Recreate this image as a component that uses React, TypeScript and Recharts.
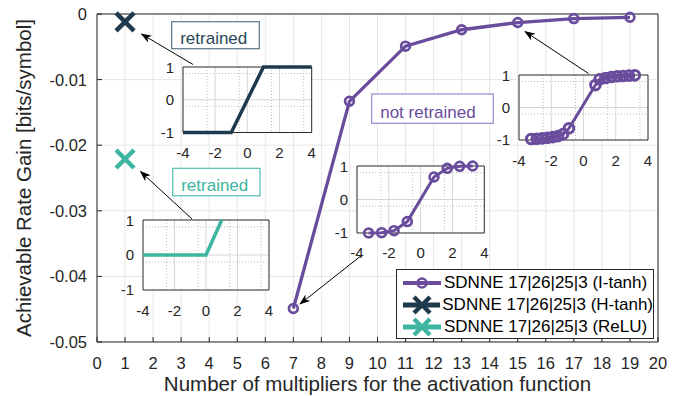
import React from "react";
import {
  LineChart,
  Line,
  XAxis,
  YAxis,
  CartesianGrid,
  Legend,
  ReferenceArea,
} from "recharts";

// main chart data
const MULTIPLIERS = [7, 9, 11, 13, 15, 17, 19];
const ITANH_GAIN = [-0.0449, -0.0133, -0.0049, -0.0024, -0.0013, -0.0007, -0.0005];
const HTANH_POS = [1];
const HTANH_GAIN = [-0.0012];
const RELU_POS = [1];
const RELU_GAIN = [-0.0221];
const X_TICKS = [0, 1, 2, 3, 4, 5, 6, 7, 8, 9, 10, 11, 12, 13, 14, 15, 16, 17, 18, 19, 20];
const Y_TICKS = [-0.05, -0.04, -0.03, -0.02, -0.01, 0];
const SERIES_NAMES = ["SDNNE 17|26|25|3 (I-tanh)", "SDNNE 17|26|25|3 (H-tanh)", "SDNNE 17|26|25|3 (ReLU)"];

// inset data (activation functions)
const HT_IN = [-4, -1, 1, 4];
const HT_OUT = [-1, -1, 1, 1];
const RELU_IN = [-4, 0, 1];
const RELU_OUT = [0, 0, 1];
const IT7_IN = [-3.27, -2.45, -1.67, -0.84, 0.84, 1.67, 2.45, 3.27];
const IT7_OUT = [-1, -0.99, -0.93, -0.66, 0.67, 0.93, 0.99, 1];
const IT15_IN = [-3.24, -2.9, -2.57, -2.24, -1.91, -1.58, -1.27, -0.9, 0.74, 1.0, 1.36, 1.73, 2.09, 2.45, 2.82, 3.18];
const IT15_OUT = [-0.97, -0.96, -0.95, -0.93, -0.91, -0.88, -0.82, -0.64, 0.69, 0.87, 0.91, 0.94, 0.96, 0.97, 0.98, 0.99];
const INSET_X_TICKS = [-4, -2, 0, 2, 4];
const INSET_Y_TICKS = [-1, 0, 1];
const INSET_MINOR_X = [-3.5, -3, -2.5, -1.5, -1, -0.5, 0.5, 1, 1.5, 2.5, 3, 3.5];
const INSET_MINOR_Y = [-0.8, -0.6, -0.4, -0.2, 0.2, 0.4, 0.6, 0.8];

const PURPLE = "#6a4c9c";
const NAVY = "#1e3a4c";
const TEAL = "#3db5a0";
const AXIS = "#262626";
const FONT = "'Liberation Sans', Arial, sans-serif";

const zip = (xs: number[], ys: number[]) => xs.map((x, i) => ({ x, y: ys[i] }));

const itanhData = zip(MULTIPLIERS, ITANH_GAIN);
const htanhData = zip(HTANH_POS, HTANH_GAIN);
const reluData = zip(RELU_POS, RELU_GAIN);

const SERIES_MARK: Record<string, { color: string; mark: "circle" | "cross" }> = {
  [SERIES_NAMES[0]]: { color: PURPLE, mark: "circle" },
  [SERIES_NAMES[1]]: { color: NAVY, mark: "cross" },
  [SERIES_NAMES[2]]: { color: TEAL, mark: "cross" },
};

const fmtY = (v: number) => (v === 0 ? "0" : v.toFixed(2));

const BottomTick = (p: any) => (
  <g>
    <line x1={p.x} x2={p.x} y1={p.y} y2={p.y - 5} stroke={AXIS} />
    <text x={p.x} y={p.y + 27} textAnchor="middle" fontSize={16.5} fill={AXIS}>
      {p.payload.value}
    </text>
  </g>
);
const TopTick = (p: any) => <line x1={p.x} x2={p.x} y1={p.y} y2={p.y + 5} stroke={AXIS} />;
const LeftTick = (p: any) => (
  <g>
    <line x1={p.x} x2={p.x + 5} y1={p.y} y2={p.y} stroke={AXIS} />
    <text x={p.x - 10} y={p.y} dy="0.36em" textAnchor="end" fontSize={16.5} fill={AXIS}>
      {fmtY(p.payload.value)}
    </text>
  </g>
);
const RightTick = (p: any) => <line x1={p.x} x2={p.x - 5} y1={p.y} y2={p.y} stroke={AXIS} />;

const InsetXTick = (p: any) => (
  <text x={p.x} y={p.y + 25.5} textAnchor="middle" fontSize={15} fill={AXIS}>
    {p.payload.value}
  </text>
);
const InsetYTick = (p: any) => (
  <text x={p.x - 9} y={p.y} dy="0.36em" textAnchor="end" fontSize={15} fill={AXIS}>
    {p.payload.value}
  </text>
);

function Cross({ cx, cy, color, s = 9, w = 4.5 }: any) {
  return (
    <g>
      <line x1={cx - s} y1={cy - s} x2={cx + s} y2={cy + s} stroke={color} strokeWidth={w} />
      <line x1={cx - s} y1={cy + s} x2={cx + s} y2={cy - s} stroke={color} strokeWidth={w} />
    </g>
  );
}

const LegendBox = (props: any) => {
  const items = [...(props.payload || [])].sort(
    (a: any, b: any) => SERIES_NAMES.indexOf(a.value) - SERIES_NAMES.indexOf(b.value)
  );
  return (
    <div
      style={{
        width: 258,
        height: 70,
        boxSizing: "border-box",
        border: `1px solid ${AXIS}`,
        background: "#fff",
        paddingTop: 2,
        paddingLeft: 5,
        fontFamily: FONT,
        fontSize: 17,
        color: "#000",
      }}
    >
      {items.map((e: any) => {
        const m = SERIES_MARK[e.value];
        return (
          <div key={e.value} style={{ display: "flex", alignItems: "center", height: 22 }}>
            <svg width={40} height={22} style={{ marginRight: 2 }}>
              <line x1={1} x2={39} y1={11} y2={11} stroke={m.color} strokeWidth={m.mark === "circle" ? 4 : 5} />
              {m.mark === "circle" ? (
                <circle cx={20} cy={11} r={4.5} fill="none" stroke={m.color} strokeWidth={2.5} />
              ) : (
                <Cross cx={20} cy={11} color={m.color} s={8} w={4.5} />
              )}
            </svg>
            <span style={{ whiteSpace: "nowrap" }}>{e.value}</span>
          </div>
        );
      })}
    </div>
  );
};

type InsetSeries = {
  xs: number[];
  ys: number[];
  color: string;
  width: number;
  circle?: { r: number; w: number };
};

function Inset({ left, top, w, h, series }: { left: number; top: number; w: number; h: number; series: InsetSeries[] }) {
  return (
    <div style={{ position: "absolute", left: left - 30, top: top - 8 }}>
      <LineChart width={w + 36} height={h + 40} margin={{ top: 8, right: 6, left: 0, bottom: 0 }}>
        <CartesianGrid
          fill="#fff"
          fillOpacity={1}
          stroke="#bdbdbd"
          strokeDasharray="1 2"
          verticalValues={INSET_MINOR_X}
          horizontalValues={INSET_MINOR_Y}
        />
        <CartesianGrid stroke="#d6d6d6" verticalValues={[-2, 0, 2]} horizontalValues={[0]} />
        <XAxis
          type="number"
          dataKey="x"
          domain={[-4, 4]}
          ticks={INSET_X_TICKS}
          height={32}
          axisLine={false}
          tickLine={false}
          tickSize={0}
          tickMargin={0}
          tick={<InsetXTick />}
        />
        <YAxis
          type="number"
          domain={[-1, 1]}
          ticks={INSET_Y_TICKS}
          width={30}
          axisLine={false}
          tickLine={false}
          tickSize={0}
          tickMargin={0}
          tick={<InsetYTick />}
        />
        <ReferenceArea x1={-4} x2={4} y1={-1} y2={1} fill="none" fillOpacity={0} stroke={AXIS} strokeWidth={1} />
        {series.map((s, i) => (
          <Line
            key={i}
            data={zip(s.xs, s.ys)}
            dataKey="y"
            stroke={s.color}
            strokeWidth={s.width}
            dot={s.circle ? { r: s.circle.r, fill: "none", stroke: s.color, strokeWidth: s.circle.w } : false}
            isAnimationActive={false}
          />
        ))}
      </LineChart>
    </div>
  );
}

const ARROWS = [
  { x1: 193, y1: 64.5, x2: 141.5, y2: 34 },
  { x1: 192, y1: 219, x2: 140.5, y2: 171.5 },
  { x1: 362, y1: 255, x2: 300, y2: 304 },
  { x1: 588.5, y1: 73.5, x2: 525, y2: 31.5 },
];

const NOTES = [
  { x: 171.7, y: 21.7, w: 87.6, h: 27, text: "retrained", stroke: "#5c7586", fill: "#2a475a" },
  { x: 172.7, y: 168.3, w: 87.3, h: 27.5, text: "retrained", stroke: "#4cbfab", fill: TEAL },
  { x: 371.7, y: 94, w: 121.6, h: 29.3, text: "not retrained", stroke: "#9a86c6", fill: PURPLE },
];

export default function App() {
  return (
    <div
      style={{
        position: "absolute",
        left: 0,
        top: 0,
        width: 694,
        height: 396,
        background: "#fff",
        fontFamily: FONT,
      }}
    >
      <LineChart width={694} height={396} margin={{ top: 13, right: 35, bottom: 53, left: 96 }}>
        <CartesianGrid stroke="#e6e6e6" />
        <XAxis
          type="number"
          dataKey="x"
          domain={[0, 20]}
          ticks={X_TICKS}
          height={1}
          tickSize={0}
          tickMargin={0}
          tickLine={false}
          axisLine={{ stroke: AXIS }}
          tick={<BottomTick />}
          interval={0}
        />
        <XAxis
          xAxisId="top"
          orientation="top"
          type="number"
          domain={[0, 20]}
          ticks={X_TICKS}
          height={1}
          tickSize={0}
          tickMargin={0}
          tickLine={false}
          axisLine={{ stroke: AXIS }}
          tick={<TopTick />}
          interval={0}
        />
        <YAxis
          type="number"
          domain={[-0.05, 0]}
          ticks={Y_TICKS}
          width={1}
          tickSize={0}
          tickMargin={0}
          tickLine={false}
          axisLine={{ stroke: AXIS }}
          tick={<LeftTick />}
          interval={0}
        />
        <YAxis
          yAxisId="right"
          orientation="right"
          type="number"
          domain={[-0.05, 0]}
          ticks={Y_TICKS}
          width={1}
          tickSize={0}
          tickMargin={0}
          tickLine={false}
          axisLine={{ stroke: AXIS }}
          tick={<RightTick />}
          interval={0}
        />
        <Line
          data={itanhData}
          dataKey="y"
          name={SERIES_NAMES[0]}
          stroke={PURPLE}
          strokeWidth={3.3}
          dot={{ r: 4.4, fill: "none", stroke: PURPLE, strokeWidth: 2.7 }}
          isAnimationActive={false}
        />
        <Line
          data={htanhData}
          dataKey="y"
          name={SERIES_NAMES[1]}
          stroke={NAVY}
          strokeWidth={3}
          dot={(p: any) => <Cross key={`h${p.index}`} cx={p.cx} cy={p.cy} color={NAVY} />}
          isAnimationActive={false}
        />
        <Line
          data={reluData}
          dataKey="y"
          name={SERIES_NAMES[2]}
          stroke={TEAL}
          strokeWidth={3}
          dot={(p: any) => <Cross key={`r${p.index}`} cx={p.cx} cy={p.cy} color={TEAL} />}
          isAnimationActive={false}
        />
        <Legend
          layout="horizontal"
          verticalAlign="middle"
          align="center"
          content={LegendBox}
          wrapperStyle={{ position: "absolute", left: 396, top: 269, width: 258, height: 70 }}
        />
      </LineChart>

      <Inset left={183} top={66.5} w={128.7} h={65.5} series={[{ xs: HT_IN, ys: HT_OUT, color: NAVY, width: 3.5 }]} />
      <Inset left={143.3} top={220} w={126} h={70} series={[{ xs: RELU_IN, ys: RELU_OUT, color: TEAL, width: 3.5 }]} />
      <Inset
        left={356.7}
        top={165.5}
        w={127.3}
        h={67}
        series={[{ xs: IT7_IN, ys: IT7_OUT, color: PURPLE, width: 3, circle: { r: 4.4, w: 2.7 } }]}
      />
      <Inset
        left={519.3}
        top={75}
        w={129}
        h={65}
        series={[{ xs: IT15_IN, ys: IT15_OUT, color: PURPLE, width: 3, circle: { r: 4.8, w: 3 } }]}
      />

      <svg
        width={694}
        height={396}
        style={{ position: "absolute", left: 0, top: 0, pointerEvents: "none", fontFamily: FONT }}
      >
        <defs>
          <marker id="ah" markerWidth={11} markerHeight={8} refX={10} refY={4} orient="auto" markerUnits="userSpaceOnUse">
            <path d="M0,0 L11,4 L0,8 L3,4 z" fill="#000" />
          </marker>
        </defs>
        {ARROWS.map((a, i) => (
          <line key={i} x1={a.x1} y1={a.y1} x2={a.x2} y2={a.y2} stroke="#000" strokeWidth={1} markerEnd="url(#ah)" />
        ))}
        {NOTES.map((n, i) => (
          <g key={i}>
            <rect x={n.x} y={n.y} width={n.w} height={n.h} fill="#fff" stroke={n.stroke} strokeWidth={1.2} />
            <text x={n.x + 8.5} y={n.y + n.h - 5} fontSize={17} fill={n.fill}>
              {n.text}
            </text>
          </g>
        ))}
        <text x={377.5} y={391} textAnchor="middle" fontSize={20.5} fill={AXIS}>
          Number of multipliers for the activation function
        </text>
        <text x={31} y={178} textAnchor="middle" fontSize={20.5} fill={AXIS} transform="rotate(-90 31 178)">
          Achievable Rate Gain [bits/symbol]
        </text>
      </svg>
    </div>
  );
}
